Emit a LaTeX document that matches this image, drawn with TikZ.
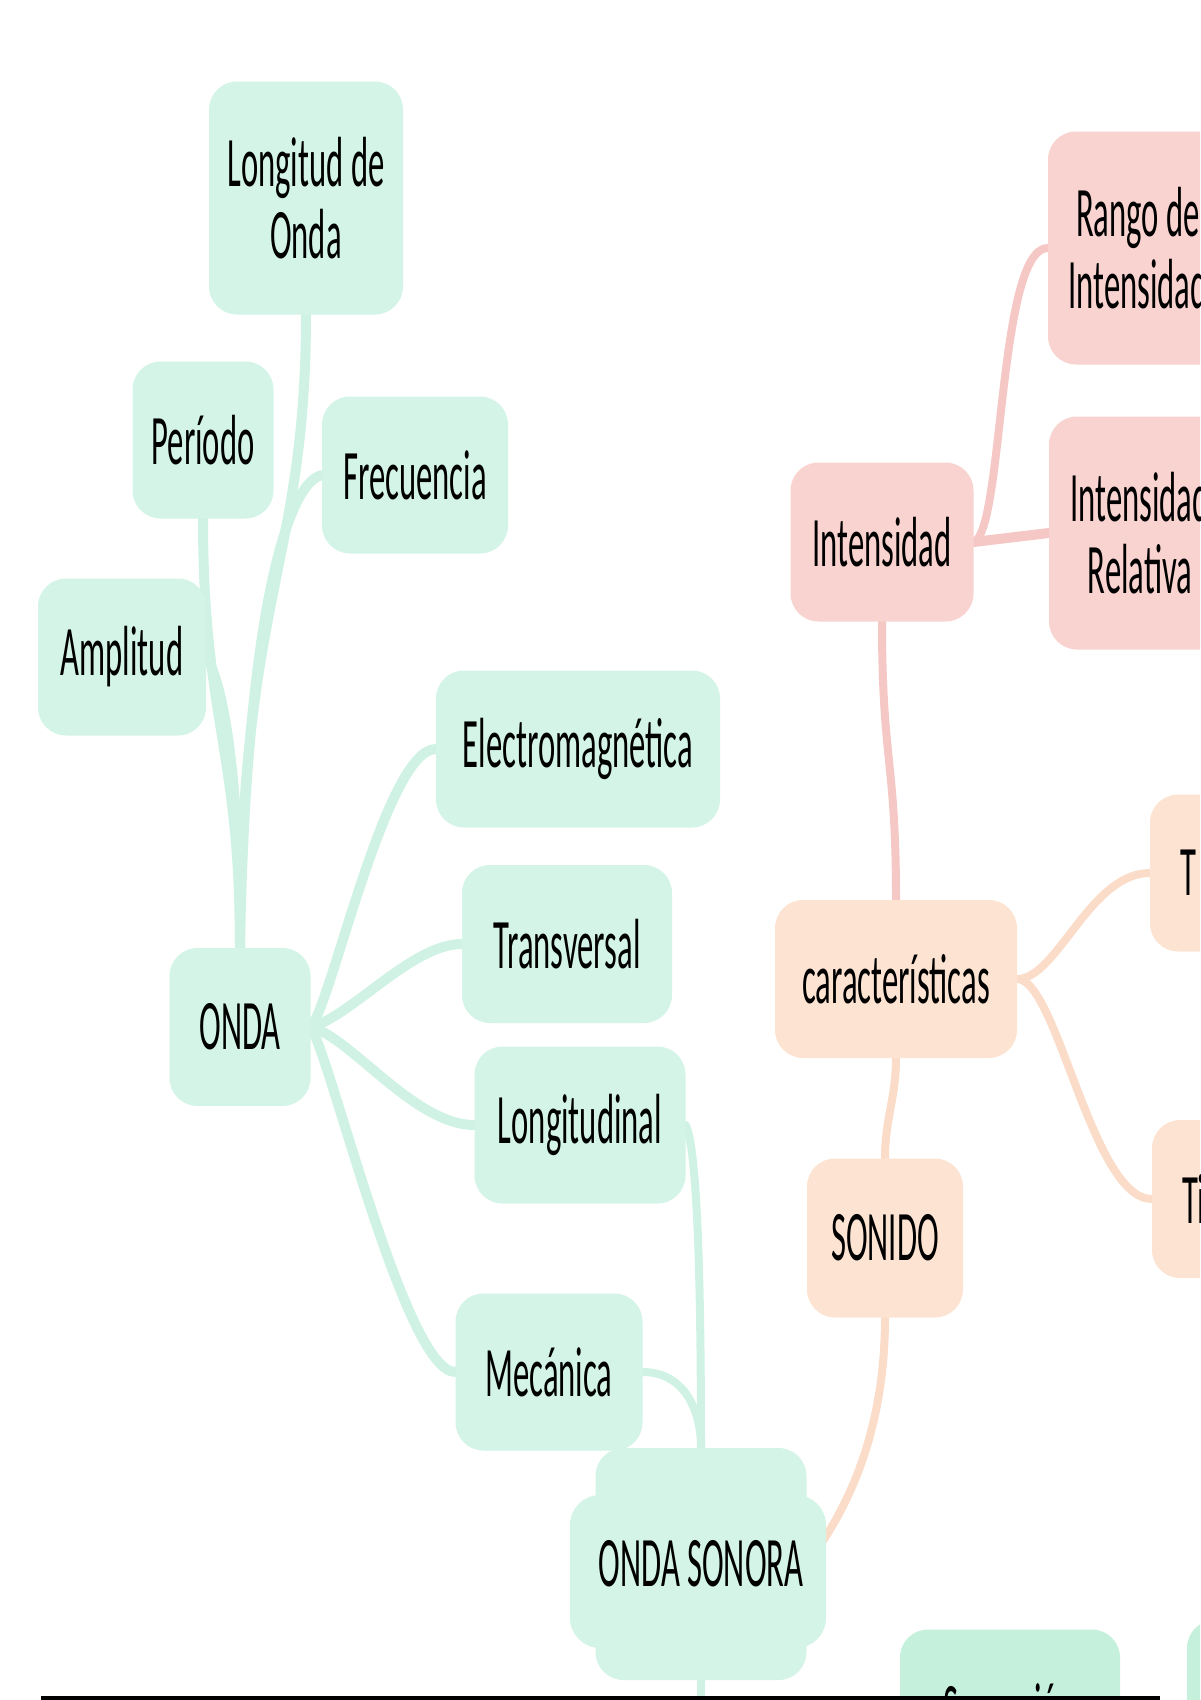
\documentclass[tikz,border=0pt]{standalone}
\usepackage{fontspec}
\newfontfamily\mapfont[FakeStretch=0.46]{Carlito}
\usetikzlibrary{backgrounds}

\definecolor{wavefill}{HTML}{D3F4E7}
\definecolor{waveline}{HTML}{D0F2E4}
\definecolor{soundfill}{HTML}{FDE4D2}
\definecolor{soundline}{HTML}{FBDCC8}
\definecolor{levelfill}{HTML}{F8D3D0}
\definecolor{levelline}{HTML}{F5C8C6}
\definecolor{feelfill}{HTML}{C5F0DC}

\begin{document}
\begin{tikzpicture}
  [x=1pt, y=-1pt,
   idea/.style={rounded corners=28pt, inner sep=0pt, align=center,
         font=\mapfont\fontsize{71}{72}\selectfont},
   wave/.style={idea, fill=wavefill},
   sound/.style={idea, fill=soundfill},
   level/.style={idea, fill=levelfill},
   feel/.style={idea, fill=feelfill},
   cutbox/.style={align=left, text width=140pt, inner xsep=30pt},
   branch/.style={line width=8pt, line cap=round}
  ]
  \useasboundingbox (0,0) rectangle (1200,1700);
  \clip (0,0) rectangle (1200,1700);

  % onda side
  \path
    (306,198)  node (lon) [wave, minimum width=194pt, minimum height=233pt] {Longitud de\\Onda}
    (203,440)  node (per) [wave, minimum width=141pt, minimum height=157pt] {Período}
    (415,475)  node (fre) [wave, minimum width=186pt, minimum height=157pt] {Frecuencia}
    (122,657)  node (amp) [wave, minimum width=168pt, minimum height=157pt] {Amplitud}
    (578,749)  node (ele) [wave, minimum width=284pt, minimum height=157pt] {Electromagnética}
    (567,944)  node (tra) [wave, minimum width=210pt, minimum height=158pt] {Transversal}
    (240,1027) node (onda) [wave, minimum width=141pt, minimum height=158pt] {ONDA}
    (580,1125) node (lng) [wave, minimum width=211pt, minimum height=157pt] {Longitudinal}
    (549,1372) node (mec) [wave, minimum width=187pt, minimum height=157pt] {Mecánica}
  ;
  \fill [wavefill, rounded corners=30pt] (570,1495) rectangle (826,1648);
  \path
    (701,1564) node (son) [wave, minimum width=211pt, minimum height=232pt] {ONDA SONORA}
  ;
  \coordinate (sonbelow) at (701,1700);

  % sonido side
  \path
    (885,1238)  node (sonido) [sound, minimum width=156pt, minimum height=159pt] {SONIDO}
    (896,979)   node (car) [sound, minimum width=242pt, minimum height=158pt] {características}
    (1250,873)  node (tono) [sound, cutbox, minimum height=157pt] {T}
    (1252,1199) node (timbre) [sound, cutbox, minimum height=158pt] {Ti}
    (882,542)   node (int) [level, minimum width=183pt, minimum height=159pt] {Intensidad}
    (1138,248)  node (rango) [level, minimum width=180pt, minimum height=233pt] {Rango de\\Intensidad}
    (1140,533)  node (rel) [level, minimum width=182pt, minimum height=233pt] {Intensidad\\Relativa}
    (1010,1708) node (sen) [feel, minimum width=220pt, minimum height=157pt] {Sensación}
    (1300,1700) node (next) [feel, minimum width=226pt, minimum height=160pt] {}
  ;

  \begin{scope}[on background layer]
  \begin{scope}[branch]
   \begin{scope}[line width=10pt]
   \draw [waveline] (onda.north) .. controls +(0,-350) and +(0,250) .. (lon.south);
   \draw [waveline] (onda.north) .. controls +(0,-200) and +(0,200) .. (per.south);
   \draw [waveline] (amp.east) .. controls +(20,30) and +(0,-150) .. (onda.north);
   \draw [waveline] (onda.north) .. controls +(5,-300) and +(-40,10) .. (fre.west);
   \draw [waveline] (onda.east) .. controls +(20,-20) and +(-50,0) .. (ele.west);
   \draw [waveline] (onda.east) .. controls +(40,-10) and +(-50,0) .. (tra.west);
   \draw [waveline] (onda.east) .. controls +(40,10) and +(-60,0) .. (lng.west);
   \draw [waveline] (onda.east) .. controls +(20,30) and +(-50,0) .. (mec.west);
   \end{scope}
   \draw [waveline] (lng.east) .. controls +(10,20) and +(0,-200) .. (son.north);
   \draw [waveline] (mec.east) .. controls +(40,0) and +(0,-40) .. (son.north);
   \draw [waveline] (son.south) -- (sonbelow);

   \draw [soundline] (sonido.south) .. controls +(0,130) and +(30,-40) .. (son.east);
   \draw [soundline] (sonido.north) .. controls +(0,-40) and +(0,40) .. (car.south);
   \draw [soundline] (car.east) .. controls +(40,0) and +(-60,0) .. (tono.west);
   \draw [soundline] (car.east) .. controls +(40,0) and +(-60,0) .. (timbre.west);

   \draw [levelline] (car.north) .. controls +(0,-140) and +(0,140) .. (int.south);
   \draw [levelline] (int.east) .. controls +(30,-10) and +(-50,0) .. (rango.west);
   \draw [levelline, line width=10pt] (int.east) -- (rel.west);
  \end{scope}
  \end{scope}

  \fill (41,1696) rectangle (1160,1700);
\end{tikzpicture}
\end{document}
